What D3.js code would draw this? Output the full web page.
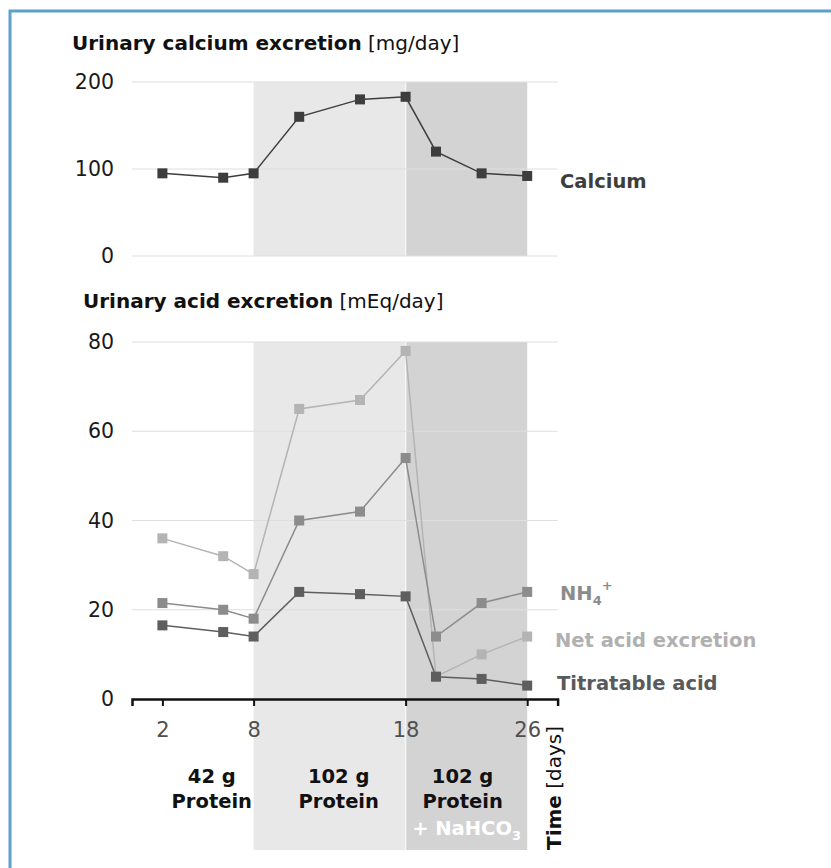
<!DOCTYPE html>
<html>
<head>
<meta charset="utf-8">
<script src="https://cdn.jsdelivr.net/npm/d3@7"></script>
<style>
  body { margin: 0; background: #fff; }
  text { font-family: "DejaVu Sans", Verdana, sans-serif; }
</style>
</head>
<body>
<div id="viz"></div>
<script>
// sampling days and series
var days = [2, 6, 8, 11, 15, 18, 20, 23, 26];
var calcium = [95, 90, 95, 160, 180, 183, 120, 95, 92];          // mg/day
var netAcid = [36, 32, 28, 65, 67, 78, 5, 10, 14];              // mEq/day
var ammonium = [21.5, 20, 18, 40, 42, 54, 14, 21.5, 24];
var titratable = [16.5, 15, 14, 24, 23.5, 23, 5, 4.5, 3];

var dayTicks = [2, 8, 18, 26];
var calciumTicks = [0, 100, 200];
var acidTicks = [0, 20, 40, 60, 80];

// diet periods
var periodStart = [0, 8, 18];
var periodEnd = [8, 18, 26];
var periodAmount = ["42 g", "102 g", "102 g"];
var periodFill = ["none", "#e8e8e8", "#d3d3d3"];

// dimensions
var width = 831;
var height = 868;
var tickFont = "'DejaVu Sans Condensed', 'DejaVu Sans', sans-serif";

var svg = d3.select("#viz")
    .append("svg")
    .attr("width", width)
    .attr("height", height);

var x = d3.scaleLinear().domain([0, 28]).range([132, 557.6]);
var yCa = d3.scaleLinear().domain([0, 200]).range([256, 82]);
var yAcid = d3.scaleLinear().domain([0, 80]).range([699, 342]);

// frame (only top and left edges show)
svg.append("path")
    .attr("d", "M10,868 V11 H831")
    .attr("fill", "none")
    .attr("stroke", "#5da2c6")
    .attr("stroke-width", 3);

// shaded diet periods
function shade(top, bottom) {
    for (var i = 0; i < periodStart.length; i++) {
        if (periodFill[i] == "none") continue;
        svg.append("rect")
            .attr("x", x(periodStart[i]))
            .attr("y", top)
            .attr("width", x(periodEnd[i]) - x(periodStart[i]))
            .attr("height", bottom - top)
            .attr("fill", periodFill[i]);
    }
    svg.append("line")
        .attr("x1", x(18)).attr("x2", x(18))
        .attr("y1", top).attr("y2", bottom)
        .attr("stroke", "#f6f6f6")
        .attr("stroke-width", 1.5);
}
shade(yCa(200), yCa(0));
shade(yAcid(80), 850);

// gridlines + y labels
function grid(yscale, ticks) {
    svg.append("g")
        .selectAll("line")
        .data(ticks)
        .enter()
        .append("line")
        .attr("x1", x(0))
        .attr("x2", x(28))
        .attr("y1", function(d) { return yscale(d); })
        .attr("y2", function(d) { return yscale(d); })
        .attr("stroke", "#dedede")
        .attr("stroke-width", 1);

    var ax = svg.append("g")
        .attr("transform", "translate(114,0)")
        .call(d3.axisLeft(yscale).tickValues(ticks).tickSize(0).tickPadding(0));
    ax.select(".domain").remove();
    ax.selectAll("text")
        .attr("font-family", tickFont)
        .attr("font-size", 20.5)
        .attr("fill", "#1a1a1a");
}
grid(yCa, calciumTicks);
grid(yAcid, acidTicks.slice(1));

// bottom axis ("0" label kept on the left)
svg.append("text")
    .attr("x", 114).attr("y", yAcid(0))
    .attr("dy", "0.32em")
    .attr("text-anchor", "end")
    .attr("font-family", tickFont)
    .attr("font-size", 20.5)
    .attr("fill", "#1a1a1a")
    .text("0");

var xAxis = svg.append("g")
    .attr("transform", "translate(0," + yAcid(0) + ")")
    .call(d3.axisBottom(x).tickValues(dayTicks).tickSizeInner(7).tickSizeOuter(7).tickPadding(16));
xAxis.select(".domain").attr("stroke", "#111").attr("stroke-width", 2.5);
xAxis.selectAll(".tick line").attr("stroke", "#111").attr("stroke-width", 2);
xAxis.selectAll("text")
    .attr("font-family", tickFont)
    .attr("font-size", 21)
    .attr("fill", "#505050");

// series
function series(yscale, values, color, width) {
    var pts = days.map(function(d, i) { return [d, values[i]]; });
    var line = d3.line()
        .x(function(d) { return x(d[0]); })
        .y(function(d) { return yscale(d[1]); });
    svg.append("path")
        .datum(pts)
        .attr("d", line)
        .attr("fill", "none")
        .attr("stroke", color)
        .attr("stroke-width", width);
    svg.append("g")
        .selectAll("rect")
        .data(pts)
        .enter()
        .append("rect")
        .attr("x", function(d) { return x(d[0]) - 5; })
        .attr("y", function(d) { return yscale(d[1]) - 5; })
        .attr("width", 10)
        .attr("height", 10)
        .attr("fill", color);
}
series(yCa, calcium, "#3d3d3d", 1.5);
series(yAcid, netAcid, "#b4b4b4", 1.5);
series(yAcid, ammonium, "#8c8c8c", 1.5);
series(yAcid, titratable, "#5e5e5e", 1.5);

// titles
function title(px, py, bold, rest) {
    var t = svg.append("text").attr("x", px).attr("y", py).attr("font-size", 20).attr("fill", "#111");
    t.append("tspan").attr("font-weight", "bold").text(bold);
    t.append("tspan").text(rest);
}
title(72, 50, "Urinary calcium excretion", " [mg/day]");
title(83, 308, "Urinary acid excretion", " [mEq/day]");

// series labels
svg.append("text")
    .attr("x", 560).attr("y", 188)
    .attr("font-size", 19.5).attr("font-weight", "bold").attr("fill", "#3d3d3d")
    .text("Calcium");

var nh4 = svg.append("text")
    .attr("x", 560).attr("y", 600)
    .attr("font-size", 19.5).attr("font-weight", "bold").attr("fill", "#8c8c8c");
nh4.append("tspan").text("NH");
nh4.append("tspan").attr("font-size", 13).attr("dy", 5).text("4");
nh4.append("tspan").attr("font-size", 13).attr("dy", -15).text("+");

svg.append("text")
    .attr("x", 555).attr("y", 647)
    .attr("font-size", 19.5).attr("font-weight", "bold").attr("fill", "#b0b0b0")
    .text("Net acid excretion");

svg.append("text")
    .attr("x", 557).attr("y", 690)
    .attr("font-size", 19.5).attr("font-weight", "bold").attr("fill", "#5a5a5a")
    .text("Titratable acid");

// period labels
var labelDay = [5.25, 13.6, 21.75];
for (var i = 0; i < periodAmount.length; i++) {
    svg.append("text")
        .attr("x", x(labelDay[i])).attr("y", 783)
        .attr("text-anchor", "middle")
        .attr("font-size", 19.5).attr("font-weight", "bold").attr("fill", "#111")
        .text(periodAmount[i]);
    svg.append("text")
        .attr("x", x(labelDay[i])).attr("y", 808)
        .attr("text-anchor", "middle")
        .attr("font-size", 19.5).attr("font-weight", "bold").attr("fill", "#111")
        .text("Protein");
}
var soda = svg.append("text")
    .attr("x", x(21.75) + 4).attr("y", 835)
    .attr("text-anchor", "middle")
    .attr("font-size", 19.5).attr("font-weight", "bold").attr("fill", "#fff");
soda.append("tspan").text("+ NaHCO");
soda.append("tspan").attr("font-size", 13).attr("dy", 5).text("3");

// axis title, rotated
var tt = svg.append("text")
    .attr("transform", "translate(561,850) rotate(-90)")
    .attr("font-size", 20).attr("fill", "#111");
tt.append("tspan").attr("font-weight", "bold").text("Time");
tt.append("tspan").text(" [days]");
</script>
</body>
</html>
